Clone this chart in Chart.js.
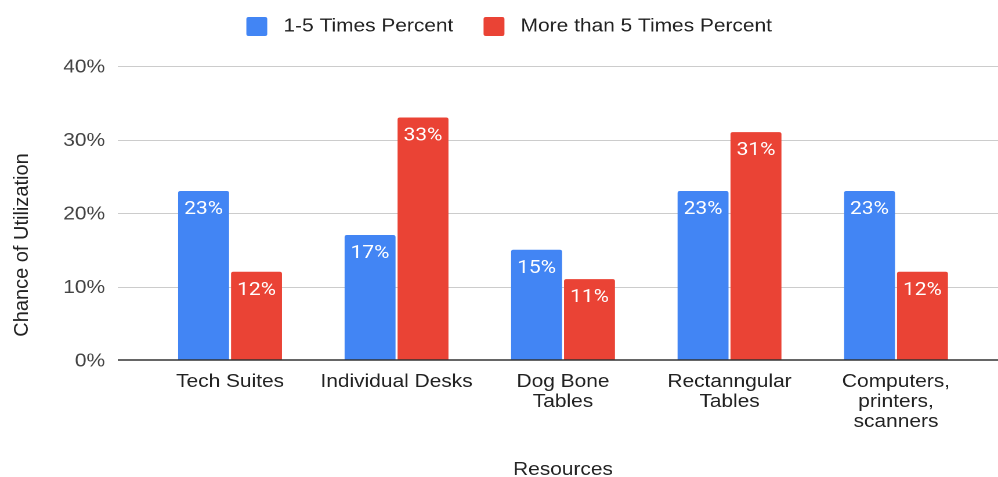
<!DOCTYPE html>
<html>
<head>
<meta charset="utf-8">
<script src="https://cdn.jsdelivr.net/npm/chart.js@4.4.1/dist/chart.umd.min.js"></script>
<style>
  html, body { margin: 0; padding: 0; background: #fff; overflow: hidden; }
  /* the chart is laid out at 860px and stretched out to the full 998px width */
  #wrap { width: 860px; height: 477px; transform: scaleX(1.1605); transform-origin: 0 0; }
</style>
</head>
<body>
<div id="wrap"><canvas id="chart"></canvas></div>
<script>
const categories = [
    ["Tech Suites"],
    ["Individual Desks"],
    ["Dog Bone", "Tables"],
    ["Rectanngular", "Tables"],
    ["Computers,", "printers,", "scanners"]
];
const seriesNames = ["1-5 Times Percent", "More than 5 Times Percent"];
const oneToFiveTimes = [23, 17, 15, 23, 23];
const moreThanFiveTimes = [12, 33, 11, 31, 12];
const yTicks = [0, 10, 20, 30, 40];

const STRETCH = 1.1605;
const FONT = "'Liberation Sans', Arial, sans-serif";

// Horizontal grid lines run a little past the plot on both sides
const gridAndLabels = {
    id: "gridAndLabels",
    beforeDatasetsDraw(chart) {
        const { ctx, chartArea, scales: { y } } = chart;
        ctx.save();
        ctx.strokeStyle = "#cccccc";
        ctx.lineWidth = 1;
        y.ticks.forEach(t => {
            if (t.value === 0) return;
            const py = Math.round(y.getPixelForValue(t.value)) + 0.5;
            ctx.beginPath();
            ctx.moveTo(chartArea.left - 25, py);
            ctx.lineTo(chart.width, py);
            ctx.stroke();
        });
        ctx.restore();
    },
    afterDatasetsDraw(chart) {
        const { ctx, chartArea, scales: { y } } = chart;
        ctx.save();
        // baseline
        const py0 = y.getPixelForValue(0);
        ctx.strokeStyle = "#333333";
        ctx.lineWidth = 1.6;
        ctx.beginPath();
        ctx.moveTo(chartArea.left - 25, py0);
        ctx.lineTo(chart.width, py0);
        ctx.stroke();

        // value labels inside the top of each bar
        ctx.fillStyle = "#ffffff";
        ctx.font = "400 18px Roboto, sans-serif";
        ctx.textAlign = "center";
        ctx.textBaseline = "middle";
        chart.data.datasets.forEach((ds, i) => {
            chart.getDatasetMeta(i).data.forEach((bar, j) => {
                ctx.fillText(ds.data[j] + "%", bar.x, bar.y + 18.5);
            });
        });

        // y axis title, unstretched and centred on the whole canvas height
        ctx.scale(1 / STRETCH, 1);
        ctx.fillStyle = "#222222";
        ctx.font = "20px " + FONT;
        ctx.textBaseline = "alphabetic";
        ctx.translate(27.6, 245);
        ctx.rotate(-Math.PI / 2);
        ctx.fillText("Chance of Utilization", 0, 0);
        ctx.restore();
    }
};

// Fixed legend height so the plot starts at the right place
const legendSpace = {
    id: "legendSpace",
    beforeInit(chart) {
        const fit = chart.legend.fit;
        chart.legend.fit = function () {
            fit.call(this);
            this.height = 75;
        };
    }
};

new Chart(document.getElementById("chart"), {
    type: "bar",
    data: {
        labels: categories,
        datasets: [
            {
                label: seriesNames[0],
                data: oneToFiveTimes,
                backgroundColor: "#4285f4",
                borderRadius: 2,
                barPercentage: 0.962,
                categoryPercentage: 0.636
            },
            {
                label: seriesNames[1],
                data: moreThanFiveTimes,
                backgroundColor: "#ea4335",
                borderRadius: 2,
                barPercentage: 0.962,
                categoryPercentage: 0.636
            }
        ]
    },
    options: {
        responsive: true,
        maintainAspectRatio: false,
        animation: false,
        devicePixelRatio: 2,
        layout: { padding: { top: -9, left: 33.6, right: 16.2, bottom: 0 } },
        plugins: {
            tooltip: { enabled: false },
            legend: {
                position: "top",
                labels: {
                    boxWidth: 18,
                    boxHeight: 19,
                    useBorderRadius: true,
                    borderRadius: 2,
                    padding: 26,
                    color: "#222222",
                    font: { family: FONT, size: 18 },
                    generateLabels(chart) {
                        const items = Chart.defaults.plugins.legend.labels.generateLabels(chart);
                        return items.map(it => Object.assign(it, { text: " " + it.text }));
                    }
                }
            }
        },
        scales: {
            x: {
                grid: { display: false, drawTicks: false },
                border: { display: false },
                ticks: {
                    padding: 12,
                    color: "#222222",
                    maxRotation: 0,
                    autoSkip: false,
                    font: { family: FONT, size: 18, lineHeight: 1.111 }
                },
                title: {
                    display: true,
                    text: "Resources",
                    color: "#222222",
                    padding: { top: 0, bottom: -2 },
                    font: { family: FONT, size: 18, lineHeight: 1.0 }
                },
                afterFit(scale) { scale.height = 117; }
            },
            y: {
                min: 0,
                max: 40,
                grid: { display: false, drawTicks: false },
                border: { display: false },
                afterBuildTicks(scale) {
                    scale.ticks = yTicks.map(v => ({ value: v }));
                },
                ticks: {
                    padding: 36,
                    labelOffset: 1.5,
                    color: "#444444",
                    font: { family: FONT, size: 18 },
                    callback: v => v + "%"
                },
                afterFit(scale) { scale.width = 126.5 - 33.6; }
            }
        }
    },
    plugins: [gridAndLabels, legendSpace]
});
</script>
</body>
</html>
